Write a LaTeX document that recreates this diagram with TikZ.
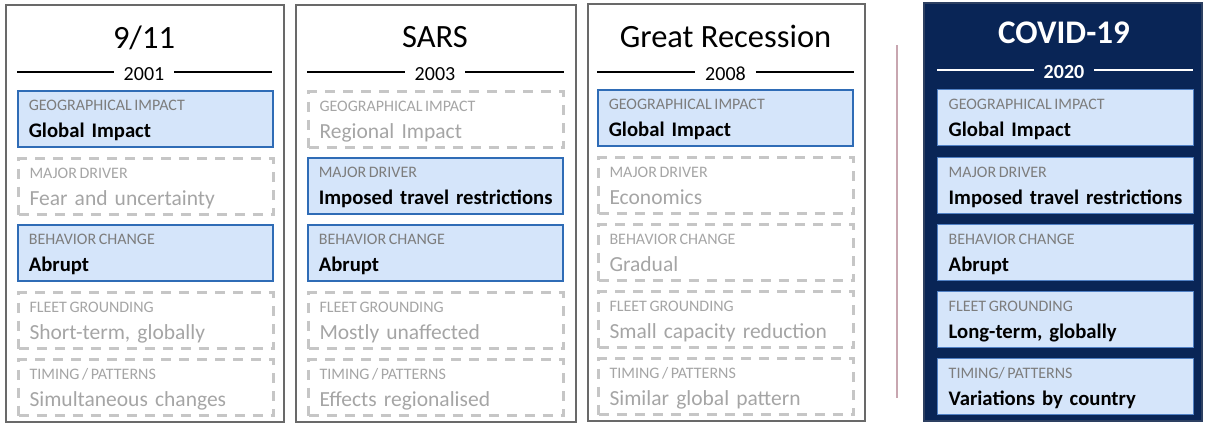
\documentclass[tikz,border=0pt]{standalone}
\usepackage{fontspec}
\setmainfont{Carlito}
\usepackage{xcolor}
\usepackage{tikz}

\definecolor{navy}{RGB}{9,37,86}
\definecolor{hitfill}{RGB}{213,229,250}
\definecolor{hitline}{RGB}{47,108,182}
\definecolor{covline}{RGB}{80,128,196}
\definecolor{lblgray}{RGB}{125,125,125}
\definecolor{missgray}{RGB}{165,165,165}
\definecolor{dashgray}{RGB}{198,198,198}
\definecolor{panelgray}{RGB}{105,105,105}
\definecolor{sepline}{RGB}{200,166,176}

\newcommand{\catlbl}[1]{{\mdseries\color{catc}\fontsize{16}{16}\selectfont\spaceskip=2.6pt #1}}

\begin{document}
\begin{tikzpicture}[x=1pt, y=-1pt,
        panel/.style={draw=panelgray, line width=2pt, anchor=north west, minimum width=278pt, minimum height=417pt, inner sep=0pt},
        title/.style={anchor=base, inner sep=0pt, font=\fontsize{32.5}{32.5}\selectfont},
        year/.style={anchor=base, inner xsep=10pt, inner ysep=0pt, font=\fontsize{20}{20}\selectfont},
        yline/.style={line width=1.3pt},
        box/.style={anchor=north west, minimum width=255pt, minimum height=56pt, text width=255pt, align=left,
            inner xsep=0pt, inner ysep=0pt, text height=20pt, text depth=36pt},
        hit/.style={box, draw=hitline, line width=1.6pt, fill=hitfill, text=black,
            font=\fontsize{20.7}{27}\selectfont\bfseries, execute at begin node={\leftskip=11pt\colorlet{catc}{lblgray}}},
        miss/.style={box, draw=dashgray, line width=3pt, dash pattern=on 10pt off 8pt, text=missgray,
            font=\fontsize{21.5}{27}\selectfont, execute at begin node={\leftskip=11pt\colorlet{catc}{missgray}}},
        cov/.style={box, draw=covline, line width=1.4pt, fill=hitfill, text=black, minimum width=256pt, text width=256pt,
            font=\fontsize{20.7}{27}\selectfont\bfseries, execute at begin node={\leftskip=11pt\colorlet{catc}{lblgray}}}]

        \useasboundingbox (0,0) rectangle (1205,423);

        % Panels
        \node[panel] (p1) at (5,4) {};
        \node[panel, minimum width=280pt] (p2) at (295,4) {};
        \node[panel, minimum width=277pt] (p3) at (587,3) {};
        \node[panel, fill=navy, draw=navy!70!gray, minimum height=418pt] (p4) at (923,2) {};

        % Titles and years
        \node[title] (t1) at (144,48) {9/11};
        \node[year] (y1) at (144,80) {2001};
        \node[title] (t2) at (435,47) {SARS};
        \node[year] (y2) at (435,80) {2003};
        \node[title] (t3) at (725.5,47) {Great Recession};
        \node[year] (y3) at (725.5,80) {2008};
        \node[title, text=white, font=\fontsize{33}{33}\selectfont\bfseries] (t4) at (1064,43) {COVID-19};
        \node[year, text=white, font=\fontsize{20}{20}\selectfont\bfseries] (y4) at (1064,78) {2020};

        \coordinate (l1) at (17,72);
        \coordinate (r1) at (272,72);
        \coordinate (l2) at (307,72);
        \coordinate (r2) at (564,72);
        \coordinate (l3) at (597,72);
        \coordinate (r3) at (854,72);
        \coordinate (l4) at (937,70);
        \coordinate (r4) at (1193,70);
        \draw[yline] (l1) -- (l1 -| y1.west);
        \draw[yline] (y1.east |- r1) -- (r1);
        \draw[yline] (l2) -- (l2 -| y2.west);
        \draw[yline] (y2.east |- r2) -- (r2);
        \draw[yline] (l3) -- (l3 -| y3.west);
        \draw[yline] (y3.east |- r3) -- (r3);
        \draw[yline, white] (l4) -- (l4 -| y4.west);
        \draw[yline, white] (y4.east |- r4) -- (r4);

        % 9/11
        \node[hit]  (a1) at (17,90)  {\catlbl{GEOGRAPHICAL IMPACT}\\Global Impact};
        \node[miss] (b1) at (17,157) {\catlbl{MAJOR DRIVER}\\Fear and uncertainty};
        \node[hit]  (c1) at (17,224) {\catlbl{BEHAVIOR CHANGE}\\Abrupt};
        \node[miss] (d1) at (17,291) {\catlbl{FLEET GROUNDING}\\Short-term, globally};
        \node[miss] (e1) at (17,358) {\catlbl{TIMING / PATTERNS}\\Simultaneous changes};

        % SARS
        \node[miss] (a2) at (307,90)  {\catlbl{GEOGRAPHICAL IMPACT}\\Regional Impact};
        \node[hit]  (b2) at (307,157) {\catlbl{MAJOR DRIVER}\\Imposed travel restrictions};
        \node[hit]  (c2) at (307,224) {\catlbl{BEHAVIOR CHANGE}\\Abrupt};
        \node[miss] (d2) at (307,291) {\catlbl{FLEET GROUNDING}\\Mostly unaffected};
        \node[miss] (e2) at (307,358) {\catlbl{TIMING / PATTERNS}\\Effects regionalised};

        % Great Recession
        \node[hit]  (a3) at (597,89)  {\catlbl{GEOGRAPHICAL IMPACT}\\Global Impact};
        \node[miss] (b3) at (597,156) {\catlbl{MAJOR DRIVER}\\Economics};
        \node[miss] (c3) at (597,223) {\catlbl{BEHAVIOR CHANGE}\\Gradual};
        \node[miss] (d3) at (597,290) {\catlbl{FLEET GROUNDING}\\Small capacity reduction};
        \node[miss] (e3) at (597,357) {\catlbl{TIMING / PATTERNS}\\Similar global pattern};

        % divider
        \coordinate (s1) at (897,45);
        \coordinate (s2) at (897,398);
        \draw[sepline, line width=1.5pt] (s1) -- (s2);

        % COVID-19
        \node[cov] (a4) at (937,89)  {\catlbl{GEOGRAPHICAL IMPACT}\\Global Impact};
        \node[cov] (b4) at (937,157) {\catlbl{MAJOR DRIVER}\\Imposed travel restrictions};
        \node[cov] (c4) at (937,224) {\catlbl{BEHAVIOR CHANGE}\\Abrupt};
        \node[cov] (d4) at (937,291) {\catlbl{FLEET GROUNDING}\\Long-term, globally};
        \node[cov] (e4) at (937,358) {\catlbl{TIMING/ PATTERNS}\\Variations by country};

    \end{tikzpicture}
\end{document}
